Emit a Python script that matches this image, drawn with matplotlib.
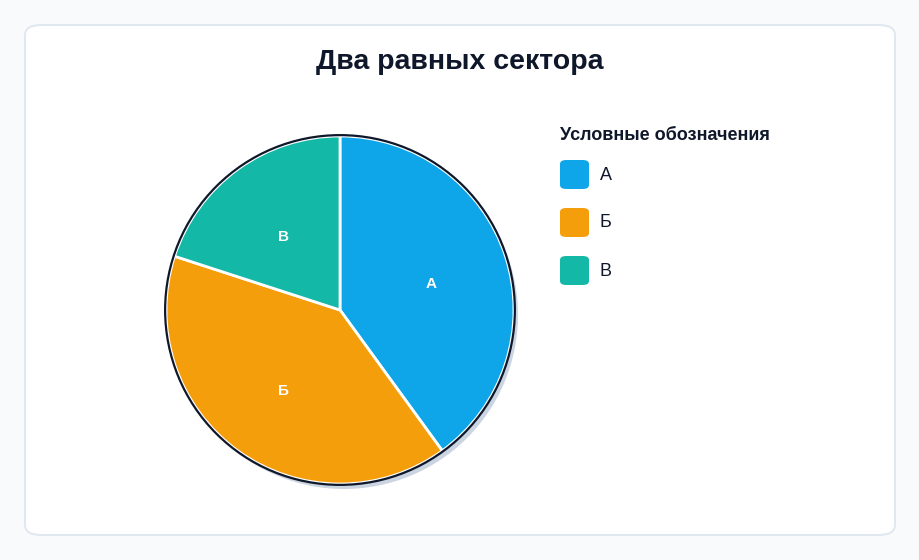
import matplotlib.pyplot as plt
from matplotlib.patches import FancyBboxPatch, Circle

labels = ['А', 'Б', 'В']
values = [40, 40, 20]
colors = ['#0ea5e9', '#f59e0b', '#14b8a6']

plt.rcParams['font.family'] = ['Liberation Sans', 'DejaVu Sans']

W, H = 920, 560
fig = plt.figure(figsize=(W / 100, H / 100), dpi=100)
fig.patch.set_facecolor('#f8fafc')

# card background
card = FancyBboxPatch((25 / W, 25 / H), 870 / W, 510 / H,
                      boxstyle='round,pad=0,rounding_size=0.018',
                      transform=fig.transFigure, facecolor='white',
                      edgecolor='#e2e8f0', linewidth=1.5, zorder=-10)
fig.patches.append(card)

fig.text(460 / W, 1 - 62 / H, 'Два равных сектора', ha='center', va='center',
         fontsize=20.5, fontweight='bold', color='#0f172a')

# pie axes: center (340, 310) px, radius 174 px
cx, cy, r = 340, 310, 174
box = 200
ax = fig.add_axes([(cx - box) / W, (H - cy - box) / H, 2 * box / W, 2 * box / H])
ax.set_zorder(1)
ax.patch.set_visible(False)

ax.add_patch(Circle((4 / r, -5 / r), 1.0, facecolor='#cbd5e1', edgecolor='none', zorder=0))
wedges, texts = ax.pie(values, labels=labels, colors=colors, startangle=90, counterclock=False,
                       labeldistance=0.55, radius=1.0,
                       wedgeprops=dict(edgecolor='white', linewidth=2),
                       textprops=dict(color='white', fontsize=11, fontweight='bold',
                                      ha='center', va='center'))
for t in texts:
    x, y = t.get_position()
    t.set_position((x, y - 4 / r))
ax.add_patch(Circle((0, 0), 1.005, fill=False, edgecolor='#0f172a', linewidth=1.6, zorder=5))
ax.set_xlim(-box / r, box / r)
ax.set_ylim(-box / r, box / r)
ax.set_aspect('equal')
ax.axis('off')

# legend
fig.text(560 / W, 1 - 135 / H, 'Условные обозначения', ha='left', va='center',
         fontsize=13, fontweight='bold', color='#0f172a')
for i, (lab, col) in enumerate(zip(labels, colors)):
    y0 = 160 + 48 * i
    sw = FancyBboxPatch((560 / W, 1 - (y0 + 29) / H), 29 / W, 29 / H,
                        boxstyle='round,pad=0,rounding_size=0.007',
                        transform=fig.transFigure, facecolor=col, edgecolor='none')
    fig.patches.append(sw)
    fig.text(600 / W, 1 - (y0 + 15) / H, lab, ha='left', va='center',
             fontsize=13, color='#0f172a')

fig.savefig('out.png', dpi=100, facecolor=fig.get_facecolor())
